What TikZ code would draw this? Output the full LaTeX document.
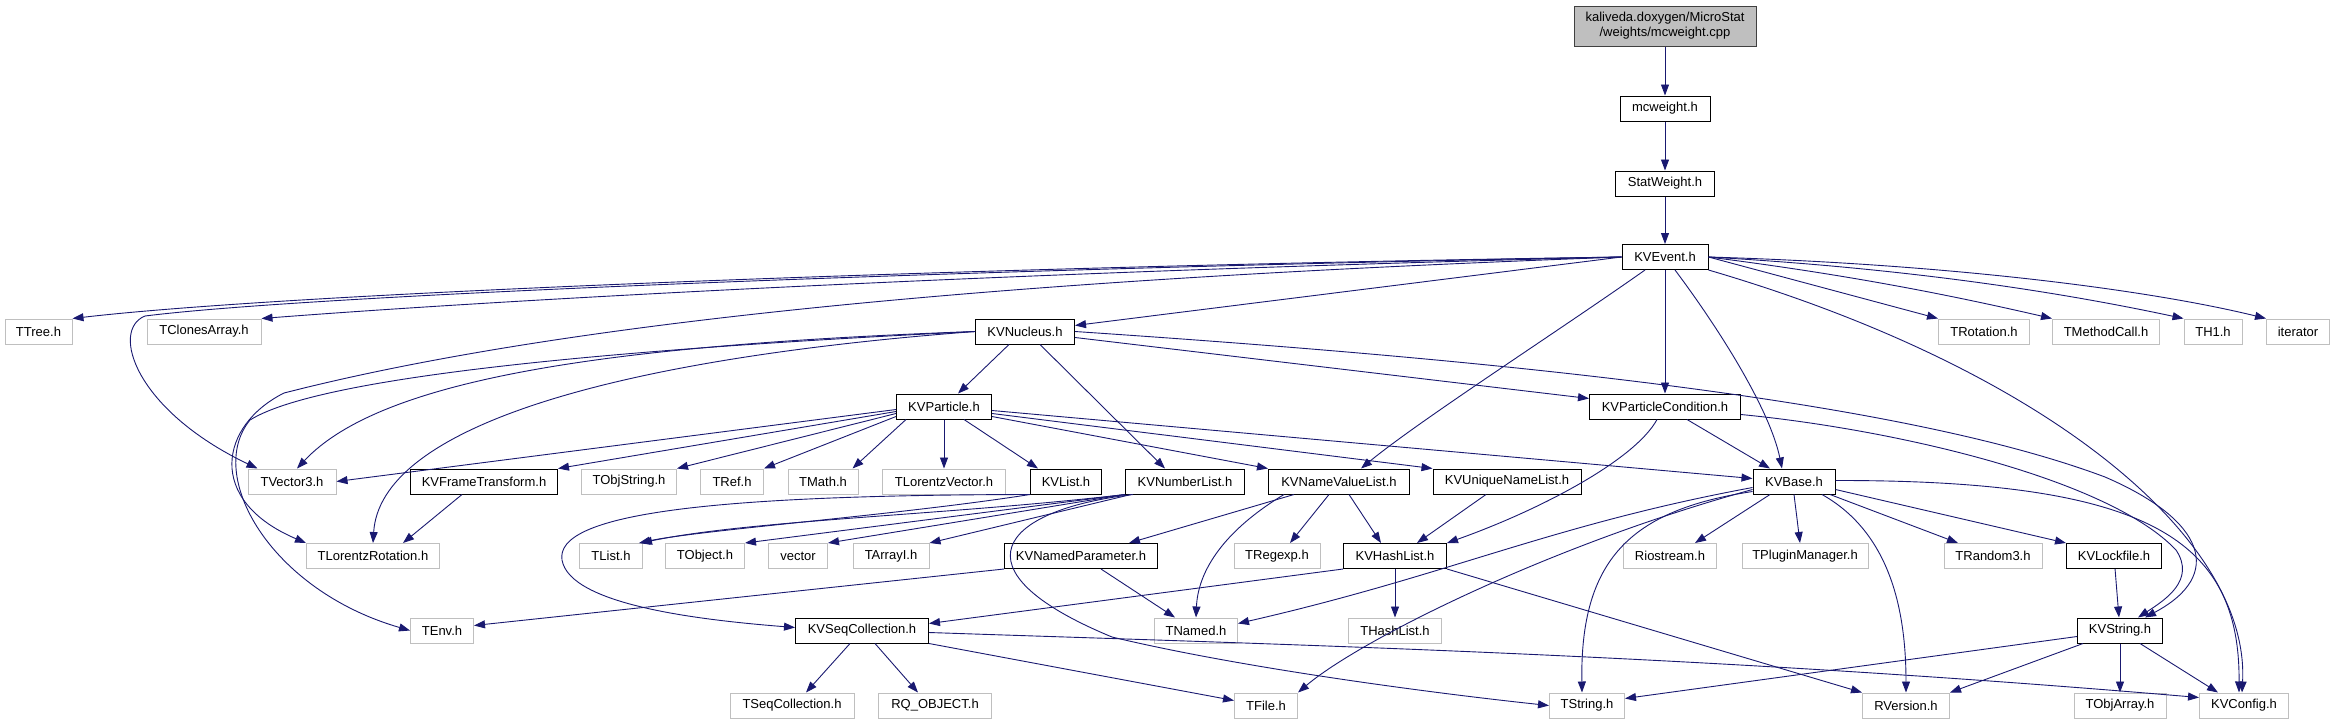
\documentclass[tikz,border=0pt]{standalone}
\usepackage{fontspec}
\setmainfont{Liberation Sans}
\usetikzlibrary{arrows.meta}
\definecolor{edgeblue}{HTML}{191970}
\definecolor{extgray}{HTML}{BFBFBF}
\definecolor{rootline}{HTML}{404040}
\begin{document}
\begin{tikzpicture}[x=1pt,y=-1pt,
  box/.style={rectangle,minimum height=25,inner sep=1pt,fill=white,line width=1pt,
    font=\fontsize{13}{15}\selectfont},
  doc/.style={box,draw=black},
  ext/.style={box,draw=extgray},
  root/.style={box,draw=rootline,fill=extgray,align=center,minimum height=40},
  dep/.style={draw=edgeblue,line width=0.9pt,-{Triangle[length=11pt,width=8pt]}}]
\useasboundingbox (0,0) rectangle (2335,724);
% top of the include chain
\node[root,minimum width=182] (main) at (1665,26) {kaliveda.doxygen/MicroStat\\/weights/mcweight.cpp};
\node[doc,minimum width=90] (mcweight) at (1665,108.5) {mcweight.h};
\node[doc,minimum width=99] (statweight) at (1665,183.5) {StatWeight.h};
\node[doc,minimum width=86] (kvevent) at (1665,257) {KVEvent.h};
% rank 4
\node[ext,minimum width=67] (ttree) at (38.5,331.5) {TTree.h};
\node[ext,minimum width=114] (tclonesarray) at (204,331.5) {TClonesArray.h};
\node[doc,minimum width=99] (kvnucleus) at (1025,331.5) {KVNucleus.h};
\node[ext,minimum width=91] (trotation) at (1984,331.5) {TRotation.h};
\node[ext,minimum width=107] (tmethodcall) at (2106,331.5) {TMethodCall.h};
\node[ext,minimum width=58] (th1) at (2213,331.5) {TH1.h};
\node[ext,minimum width=63] (iterator) at (2298,331.5) {iterator};
% rank 5
\node[doc,minimum width=95] (kvparticle) at (944,406.5) {KVParticle.h};
\node[doc,minimum width=151] (kvparticlecondition) at (1665,406.5) {KVParticleCondition.h};
% rank 6
\node[ext,minimum width=88] (tvector3) at (292,481.5) {TVector3.h};
\node[doc,minimum width=147] (kvframetransform) at (484,481.5) {KVFrameTransform.h};
\node[ext,minimum width=95] (tobjstring) at (629,481.5) {TObjString.h};
\node[ext,minimum width=63] (tref) at (732,481.5) {TRef.h};
\node[ext,minimum width=70] (tmath) at (823,481.5) {TMath.h};
\node[ext,minimum width=123] (tlorentzvector) at (944,481.5) {TLorentzVector.h};
\node[doc,minimum width=71] (kvlist) at (1066,481.5) {KVList.h};
\node[doc,minimum width=119] (kvnumberlist) at (1185,481.5) {KVNumberList.h};
\node[doc,minimum width=141] (kvnamevaluelist) at (1339,481.5) {KVNameValueList.h};
\node[doc,minimum width=148] (kvuniquenamelist) at (1507,481.5) {KVUniqueNameList.h};
\node[doc,minimum width=82] (kvbase) at (1794,481.5) {KVBase.h};
% rank 7
\node[ext,minimum width=133] (tlorentzrotation) at (373,556) {TLorentzRotation.h};
\node[ext,minimum width=63] (tlist) at (611,556) {TList.h};
\node[ext,minimum width=79] (tobject) at (705,556) {TObject.h};
\node[ext,minimum width=59] (vector) at (798,556) {vector};
\node[ext,minimum width=76] (tarrayi) at (891,556) {TArrayI.h};
\node[doc,minimum width=153] (kvnamedparameter) at (1081,556) {KVNamedParameter.h};
\node[ext,minimum width=86] (tregexp) at (1277,556) {TRegexp.h};
\node[doc,minimum width=103] (kvhashlist) at (1395,556) {KVHashList.h};
\node[ext,minimum width=93] (riostream) at (1670,556) {Riostream.h};
\node[ext,minimum width=126] (tpluginmanager) at (1805,556) {TPluginManager.h};
\node[ext,minimum width=98] (trandom3) at (1993,556) {TRandom3.h};
\node[doc,minimum width=95] (kvlockfile) at (2114,556) {KVLockfile.h};
% rank 8
\node[ext,minimum width=63] (tenv) at (442,630.5) {TEnv.h};
\node[doc,minimum width=133] (kvseqcollection) at (862,630.5) {KVSeqCollection.h};
\node[ext,minimum width=83] (tnamed) at (1196,630.5) {TNamed.h};
\node[ext,minimum width=93] (thashlist) at (1395,630.5) {THashList.h};
\node[doc,minimum width=85] (kvstring) at (2120,630.5) {KVString.h};
% rank 9
\node[ext,minimum width=124] (tseqcollection) at (792,705.5) {TSeqCollection.h};
\node[ext,minimum width=113] (rqobject) at (935,705.5) {RQ\_OBJECT.h};
\node[ext,minimum width=63] (tfile) at (1266,705.5) {TFile.h};
\node[ext,minimum width=75] (tstring) at (1587,705.5) {TString.h};
\node[ext,minimum width=87] (rversion) at (1906,705.5) {RVersion.h};
\node[ext,minimum width=92] (tobjarray) at (2120,705.5) {TObjArray.h};
\node[ext,minimum width=89] (kvconfig) at (2244,705.5) {KVConfig.h};
% chain
\draw[dep] (main) -- (mcweight);
\draw[dep] (mcweight) -- (statweight);
\draw[dep] (statweight) -- (kvevent);
% KVEvent.h
\draw[dep] (kvevent.west) .. controls (1000,266) and (300,292) .. (ttree.north east);
\draw[dep] (kvevent.west) .. controls (1000,272) and (500,300) .. (tclonesarray.north east);
\draw[dep] (kvevent.west) .. controls (1000,268) and (320,294) .. (145,316) .. controls (110,330) and (135,410) .. ([xshift=10]tvector3.north west);
\draw[dep] (kvevent.west) -- ([yshift=6]kvnucleus.east);
\draw[dep] (kvevent.west) .. controls (1100,276) and (600,312) .. (284,393) .. controls (220,425) and (205,500) .. (tlorentzrotation.north west);
\draw[dep] ([xshift=-20]kvevent.south) .. controls (1560,330) and (1420,420) .. ([xshift=22]kvnamevaluelist.north);
\draw[dep] (kvevent) -- (kvparticlecondition);
\draw[dep] ([xshift=10]kvevent.south) .. controls (1720,330) and (1770,410) .. ([xshift=-12]kvbase.north);
\draw[dep] (kvevent.east) -- (trotation.north west);
\draw[dep] (kvevent.east) .. controls (1850,275) and (1950,295) .. (tmethodcall.north west);
\draw[dep] (kvevent.east) .. controls (1900,268) and (2050,290) .. (th1.north west);
\draw[dep] (kvevent.east) .. controls (1950,264) and (2150,290) .. (iterator.north west);
\draw[dep] (kvevent.south east) .. controls (2050,370) and (2250,540) .. ([xshift=-2]kvconfig.north);
% KVNucleus.h
\draw[dep] (kvnucleus.west) .. controls (600,345) and (380,380) .. ([xshift=5]tvector3.north);
\draw[dep] (kvnucleus.west) .. controls (600,360) and (380,430) .. (tlorentzrotation.north);
\draw[dep] (kvnucleus.west) .. controls (700,345) and (330,370) .. (250,420) .. controls (205,475) and (270,590) .. (tenv.west);
\draw[dep] ([xshift=-16]kvnucleus.south) -- ([xshift=14]kvparticle.north);
\draw[dep] ([xshift=15]kvnucleus.south) -- ([xshift=-20]kvnumberlist.north);
\draw[dep] ([yshift=-6]kvnucleus.east) -- ([yshift=8]kvparticlecondition.west);
\draw[dep] (kvnucleus.east) .. controls (1500,360) and (1900,400) .. (2105,477) .. controls (2205,520) and (2225,575) .. ([xshift=25]kvstring.north);
% KVParticle.h
\draw[dep] ([yshift=-3]kvparticle.west) -- (tvector3.east);
\draw[dep] ([yshift=-5]kvparticle.west) -- (kvframetransform.north east);
\draw[dep] ([yshift=-7]kvparticle.west) -- (tobjstring.north east);
\draw[dep] ([yshift=-10]kvparticle.west) -- (tref.north east);
\draw[dep] ([xshift=10]kvparticle.south west) -- ([xshift=-6]tmath.north east);
\draw[dep] (kvparticle) -- (tlorentzvector);
\draw[dep] ([xshift=20]kvparticle.south) -- ([xshift=-28]kvlist.north);
\draw[dep] ([yshift=-10]kvparticle.east) -- (kvnamevaluelist.north west);
\draw[dep] ([yshift=-7]kvparticle.east) -- (kvuniquenamelist.north west);
\draw[dep] ([yshift=-4]kvparticle.east) -- ([yshift=3]kvbase.west);
% KVParticleCondition.h
\draw[dep] ([xshift=22]kvparticlecondition.south) -- ([xshift=-24]kvbase.north);
\draw[dep] ([xshift=-8]kvparticlecondition.south) .. controls (1635,460) and (1540,510) .. (kvhashlist.north east);
\draw[dep] ([yshift=-8]kvparticlecondition.east) .. controls (1900,430) and (2110,480) .. (2176,550) .. controls (2196,580) and (2165,600) .. ([xshift=18]kvstring.north);
% second level headers
\draw[dep] ([xshift=-22]kvframetransform.south) -- ([xshift=30]tlorentzrotation.north);
\draw[dep] (kvlist.south west) .. controls (900,515) and (700,530) .. ([xshift=-4]tlist.north east);
\draw[dep] (kvlist.south west) .. controls (700,495) and (555,515) .. (562,560) .. controls (570,605) and (700,620) .. ([yshift=3]kvseqcollection.west);
\draw[dep] (kvnumberlist.south west) .. controls (950,515) and (750,520) .. ([xshift=-2]tlist.north east);
\draw[dep] (kvnumberlist.south west) -- (tobject.north east);
\draw[dep] (kvnumberlist.south west) -- (vector.north east);
\draw[dep] ([xshift=6]kvnumberlist.south west) -- (tarrayi.north east);
\draw[dep] ([xshift=8]kvnumberlist.south west) .. controls (1000,510) and (950,570) .. (1112,637) .. controls (1250,670) and (1450,695) .. (tstring.west);
\draw[dep] ([xshift=-45]kvnamevaluelist.south) -- ([xshift=48]kvnamedparameter.north);
\draw[dep] ([xshift=-55]kvnamevaluelist.south) .. controls (1225,530) and (1198,570) .. (tnamed.north);
\draw[dep] ([xshift=-10]kvnamevaluelist.south) -- ([xshift=13]tregexp.north);
\draw[dep] ([xshift=10]kvnamevaluelist.south) -- ([xshift=-14]kvhashlist.north);
\draw[dep] ([xshift=-21]kvuniquenamelist.south) -- ([xshift=22]kvhashlist.north);
% KVBase.h
\draw[dep] ([yshift=-6]kvbase.west) .. controls (1550,525) and (1450,575) .. ([yshift=7]tnamed.east);
\draw[dep] ([yshift=-8]kvbase.west) .. controls (1550,545) and (1360,640) .. (tfile.north east);
\draw[dep] ([yshift=-10]kvbase.west) .. controls (1630,510) and (1580,560) .. ([xshift=-5]tstring.north);
\draw[dep] ([xshift=-24]kvbase.south) -- ([xshift=25]riostream.north);
\draw[dep] (kvbase.south) -- ([xshift=-5]tpluginmanager.north);
\draw[dep] ([xshift=28]kvbase.south) .. controls (1885,530) and (1906,600) .. (rversion.north);
\draw[dep] ([xshift=36]kvbase.south) -- ([xshift=-35]trandom3.north);
\draw[dep] ([yshift=-8]kvbase.east) -- (kvlockfile.north west);
\draw[dep] ([yshift=1]kvbase.east) .. controls (2150,480) and (2240,540) .. ([xshift=-5]kvconfig.north);
% lower levels
\draw[dep] (kvnamedparameter.south west) -- ([yshift=5]tenv.east);
\draw[dep] ([xshift=20]kvnamedparameter.south) -- ([xshift=-21]tnamed.north);
\draw[dep] (kvhashlist.south west) -- ([yshift=7]kvseqcollection.east);
\draw[dep] (kvhashlist) -- (thashlist);
\draw[dep] (kvhashlist.south east) -- (rversion.north west);
\draw[dep] (kvlockfile) -- (kvstring);
\draw[dep] ([yshift=-6]kvstring.west) -- ([yshift=7]tstring.east);
\draw[dep] ([xshift=6]kvstring.south west) -- (rversion.north east);
\draw[dep] (kvstring) -- (tobjarray);
\draw[dep] ([xshift=20]kvstring.south) -- ([xshift=-26]kvconfig.north);
\draw[dep] ([xshift=-12]kvseqcollection.south) -- ([xshift=14]tseqcollection.north);
\draw[dep] ([xshift=13]kvseqcollection.south) -- ([xshift=-17]rqobject.north);
\draw[dep] (kvseqcollection.south east) -- ([yshift=5]tfile.west);
\draw[dep] ([yshift=-2]kvseqcollection.east) .. controls (1300,645) and (1700,655) .. ([yshift=8]kvconfig.west);
\end{tikzpicture}
\end{document}
